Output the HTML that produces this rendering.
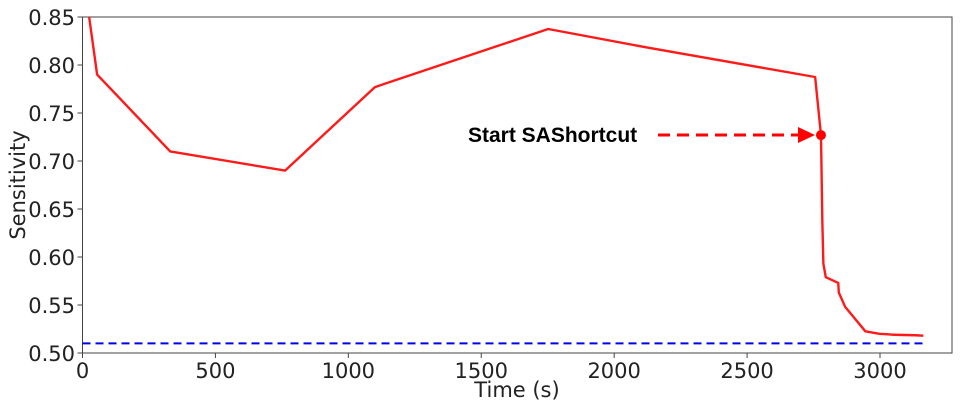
<!DOCTYPE html>
<html><head><meta charset="utf-8"><style>
body{margin:0;background:#fff}
svg text{font-family:"DejaVu Sans","Liberation Sans",sans-serif}
</style></head><body>
<svg id="chart" width="960" height="400">
<rect x="82.5" y="17" width="869.5" height="336" fill="#fff" stroke="#444" stroke-width="1"/>
<g id="ticks"></g>
<path id="base" fill="none" stroke="#0000ee" stroke-width="2" stroke-dasharray="8,5"/>
<path id="line" fill="none" stroke="#ff1a1a" stroke-width="2.4" stroke-linejoin="round"/>
<circle id="mark" r="5" fill="#ff0000"/>
<line x1="658" y1="135" x2="800" y2="135" stroke="#ff0000" stroke-width="3" stroke-dasharray="12,7"/>
<polygon points="798,127 815,135 798,143" fill="#ff0000"/>
<text x="468" y="142" font-size="21" font-weight="bold" style="font-family:'Liberation Sans',sans-serif">Start SAShortcut</text>
<text x="517" y="397" font-size="21" text-anchor="middle" fill="#222">Time (s)</text>
<text transform="translate(25,185) rotate(-90)" font-size="21" text-anchor="middle" fill="#222">Sensitivity</text>
</svg>
<script>
const times=[25,55,330,762,1100,1752,2128,2756,2778,2783,2787,2796,2843,2845,2869,2945,2998,3054,3133,3163];
const sens=[0.85,0.79,0.71,0.69,0.777,0.8375,0.818,0.7875,0.727,0.638,0.593,0.579,0.573,0.563,0.548,0.5226,0.520,0.519,0.5185,0.518];
const baseline=[0.51,0.51];
const baseTimes=[0,3163];
const xTicks=[0,500,1000,1500,2000,2500,3000];
const yTicks=[0.50,0.55,0.60,0.65,0.70,0.75,0.80,0.85];
const startIdx=8;
const X=t=>82.5+t*(797.5/3000);
const Y=v=>17+(0.85-v)*960;
const ns="http://www.w3.org/2000/svg";
document.getElementById('line').setAttribute('d',times.map((t,i)=>(i?'L':'M')+X(t)+','+Y(sens[i])).join(''));
document.getElementById('base').setAttribute('d',baseTimes.map((t,i)=>(i?'L':'M')+X(t)+','+Y(baseline[i])).join(''));
const m=document.getElementById('mark');m.setAttribute('cx',X(times[startIdx]));m.setAttribute('cy',Y(sens[startIdx]));
const g=document.getElementById('ticks');
xTicks.forEach(t=>{
 const l=document.createElementNS(ns,'line');
 
 
 l.setAttribute('x1',X(t));l.setAttribute('x2',X(t));l.setAttribute('y1',353);l.setAttribute('y2',358);l.setAttribute('stroke','#444');g.appendChild(l);
 const tx=document.createElementNS(ns,'text');
 
 
 tx.setAttribute('x',X(t));tx.setAttribute('y',378);tx.setAttribute('font-size','21');tx.setAttribute('text-anchor','middle');tx.setAttribute('fill','#222');tx.textContent=t;g.appendChild(tx);
});
yTicks.forEach(v=>{
 const l=document.createElementNS(ns,'line');
 
 
 l.setAttribute('x1',77.5);l.setAttribute('x2',82.5);l.setAttribute('y1',Y(v));l.setAttribute('y2',Y(v));l.setAttribute('stroke','#444');g.appendChild(l);
 const tx=document.createElementNS(ns,'text');
 
 
 tx.setAttribute('x',75);tx.setAttribute('y',Y(v)+8);tx.setAttribute('font-size','21');tx.setAttribute('text-anchor','end');tx.setAttribute('fill','#222');tx.textContent=v.toFixed(2);g.appendChild(tx);
});
</script>
</body></html>
